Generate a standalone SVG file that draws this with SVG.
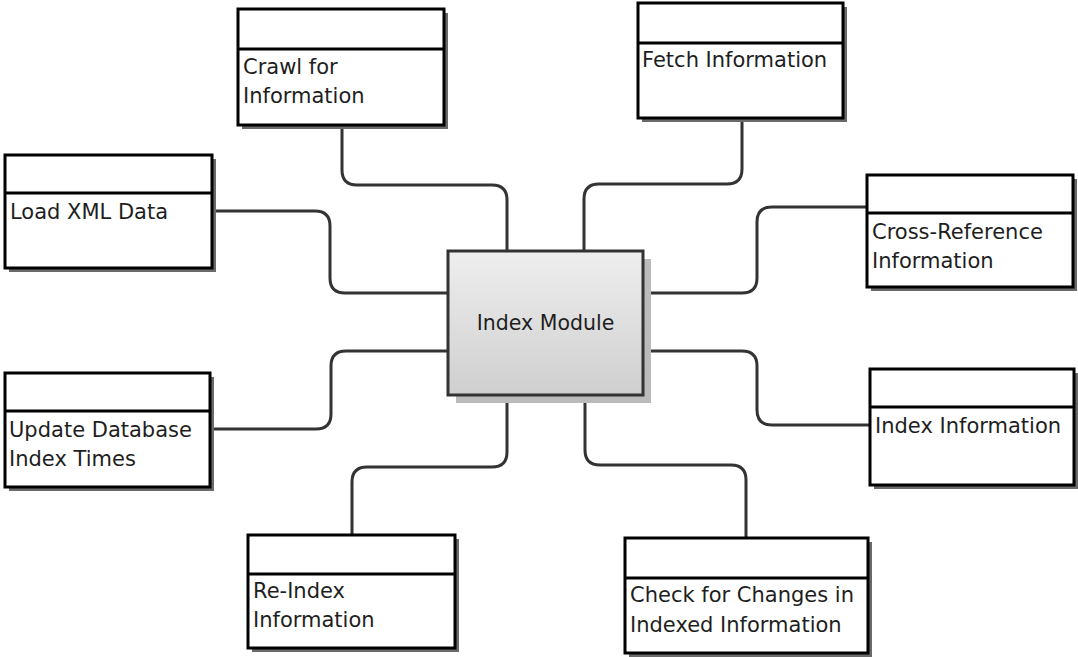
<svg xmlns="http://www.w3.org/2000/svg" width="1078" height="657" viewBox="0 0 1078 657">
  <style>
    .shadow { fill: #6a6a6a; }
    .box { fill: #ffffff; stroke: #000000; stroke-width: 3; }
    .div { stroke: #000000; stroke-width: 3; }
    .lbl { font-family: "DejaVu Sans", Verdana, sans-serif; font-size: 21px; fill: #1e1e1e; }
    .core { font-size: 20.5px; }
    .conn { fill: none; stroke: #333333; stroke-width: 3; }
  </style>
  <defs>
    <linearGradient id="coreFill" x1="0" y1="0" x2="0" y2="1">
      <stop offset="0" stop-color="#eeeeee"/>
      <stop offset="1" stop-color="#cfcfcf"/>
    </linearGradient>
  </defs>
  <rect width="1078" height="657" fill="#ffffff"/>

  <!-- links from the central module to each task -->
  <g id="connectors">
    <path class="conn" d="M342 125 V170 Q342 185 357 185 H492 Q507 185 507 200 V251"/>
    <path class="conn" d="M742 118 V169 Q742 184 727 184 H599 Q584 184 584 199 V251"/>
    <path class="conn" d="M212 211 H315 Q330 211 330 226 V278 Q330 293 345 293 H448"/>
    <path class="conn" d="M643 293 H742 Q757 293 757 278 V222 Q757 207 772 207 H867"/>
    <path class="conn" d="M210 429 H316 Q331 429 331 414 V366 Q331 351 346 351 H448"/>
    <path class="conn" d="M643 351 H742 Q757 351 757 366 V410 Q757 425 772 425 H870"/>
    <path class="conn" d="M507 395 V452 Q507 467 492 467 H367 Q352 467 352 482 V535"/>
    <path class="conn" d="M585 395 V450 Q585 465 600 465 H731 Q746 465 746 480 V538"/>
  </g>

  <g id="index-module">
    <rect x="456" y="259" width="195" height="144" fill="#bbbbbb"/>
    <rect x="448" y="251" width="195" height="144" fill="url(#coreFill)" stroke="#333333" stroke-width="3"/>
    <text class="lbl core" x="545.5" y="330" text-anchor="middle">Index Module</text>
  </g>

  <g id="crawl">
    <rect class="shadow" x="242" y="13" width="206" height="116"/>
    <rect class="box" x="238" y="9" width="206" height="116"/>
    <line class="div" x1="238" y1="49" x2="444" y2="49"/>
    <text class="lbl" x="243" y="74">Crawl for</text>
    <text class="lbl" x="243" y="103">Information</text>
  </g>

  <g id="fetch">
    <rect class="shadow" x="642" y="7" width="205" height="115"/>
    <rect class="box" x="638" y="3" width="205" height="115"/>
    <line class="div" x1="638" y1="43" x2="843" y2="43"/>
    <text class="lbl" x="642" y="67">Fetch Information</text>
  </g>

  <g id="load-xml">
    <rect class="shadow" x="9" y="159" width="207" height="113"/>
    <rect class="box" x="5" y="155" width="207" height="113"/>
    <line class="div" x1="5" y1="193" x2="212" y2="193"/>
    <text class="lbl" x="10" y="219">Load XML Data</text>
  </g>

  <g id="cross-reference">
    <rect class="shadow" x="871" y="179" width="206" height="112"/>
    <rect class="box" x="867" y="175" width="206" height="112"/>
    <line class="div" x1="867" y1="213" x2="1073" y2="213"/>
    <text class="lbl" x="872" y="239">Cross-Reference</text>
    <text class="lbl" x="872" y="268">Information</text>
  </g>

  <g id="update-db">
    <rect class="shadow" x="9" y="377" width="205" height="114"/>
    <rect class="box" x="5" y="373" width="205" height="114"/>
    <line class="div" x1="5" y1="411" x2="210" y2="411"/>
    <text class="lbl" x="9" y="437">Update Database</text>
    <text class="lbl" x="9" y="466">Index Times</text>
  </g>

  <g id="index-information">
    <rect class="shadow" x="874" y="373" width="204" height="116"/>
    <rect class="box" x="870" y="369" width="204" height="116"/>
    <line class="div" x1="870" y1="407" x2="1074" y2="407"/>
    <text class="lbl" x="875" y="433">Index Information</text>
  </g>

  <g id="re-index">
    <rect class="shadow" x="252" y="539" width="207" height="113"/>
    <rect class="box" x="248" y="535" width="207" height="113"/>
    <line class="div" x1="248" y1="574" x2="455" y2="574"/>
    <text class="lbl" x="253" y="598">Re-Index</text>
    <text class="lbl" x="253" y="627">Information</text>
  </g>

  <g id="check-changes">
    <rect class="shadow" x="629" y="542" width="243" height="115"/>
    <rect class="box" x="625" y="538" width="243" height="115"/>
    <line class="div" x1="625" y1="578" x2="868" y2="578"/>
    <text class="lbl" x="630" y="602">Check for Changes in</text>
    <text class="lbl" x="630" y="632">Indexed Information</text>
  </g>
</svg>
